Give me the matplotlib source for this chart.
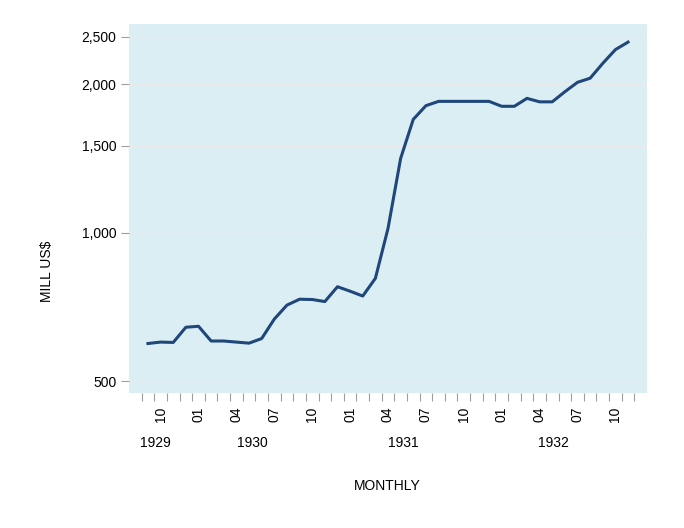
import matplotlib
matplotlib.use("Agg")
import matplotlib.pyplot as plt
import matplotlib.ticker as mticker
import matplotlib.transforms as mtrans
import pandas as pd

# monthly series, Sep 1929 .. Nov 1932 (mill US$)
months = pd.period_range("1929-09", "1932-11", freq="M")
values = [596, 600, 599, 643, 646, 603, 603, 600, 597, 610,
          668, 713, 733, 732, 725, 777, 761, 744, 808, 1020,
          1415, 1698, 1810, 1847, 1847, 1847, 1847, 1847, 1805, 1805,
          1873, 1843, 1843, 1932, 2019, 2058, 2206, 2352, 2436]
yticks = [500, 1000, 1500, 2000, 2500]
years = ["1929", "1930", "1931", "1932"]
year_pos = [0.6, 8.3, 20.2, 32.1]

plt.rcParams["font.family"] = ["Liberation Sans", "DejaVu Sans"]
plt.rcParams["font.size"] = 10

fig = plt.figure(figsize=(6.84, 5.28), dpi=100)
ax = fig.add_axes([129 / 684, 135 / 528, 518 / 684, 369 / 528])
ax.set_facecolor("#dbeef4")

x = list(range(len(months)))
ax.plot(x, values, color="#1f477b", lw=2.2, solid_joinstyle="round", zorder=3)

ax.set_yscale("log")
ax.set_ylim(473, 2651)
ax.set_xlim(-1.5, len(months) + 0.5)
ax.yaxis.set_major_locator(mticker.FixedLocator(yticks))
ax.yaxis.set_minor_locator(mticker.NullLocator())
ax.yaxis.set_major_formatter(mticker.FuncFormatter(lambda v, p: "{:,.0f}".format(v)))
ax.grid(axis="y", color="#e9e9e9", lw=1, zorder=1)

for s in ax.spines.values():
    s.set_visible(False)

# month boundary ticks
ax.set_xticks([i - 0.5 for i in range(len(months) + 1)])
ax.set_xticklabels([])
# quarter labels at month centres
lab_x = [i for i, m in enumerate(months) if m.month in (1, 4, 7, 10)]
lab_t = ["%02d" % months[i].month for i in lab_x]
ax.set_xticks(lab_x, minor=True)
ax.set_xticklabels(lab_t, minor=True, rotation=90)
ax.tick_params(axis="x", which="major", length=6, color="#a0a0a0", pad=0)
ax.tick_params(axis="x", which="minor", length=0, pad=10, labelsize=10)
ax.tick_params(axis="y", which="major", length=6, color="#a0a0a0", pad=3)

trans = mtrans.blended_transform_factory(ax.transData, ax.transAxes)
for yr, xp in zip(years, year_pos):
    ax.text(xp, -0.1355, yr, transform=trans, ha="center", va="center", fontsize=10)

fig.text(47 / 684, 1 - 271 / 528, "MILL US$", rotation=90, ha="center", va="center", fontsize=10)
fig.text(387 / 684, 1 - 486 / 528, "MONTHLY", ha="center", va="center", fontsize=10)

fig.savefig("out.png", dpi=100)
